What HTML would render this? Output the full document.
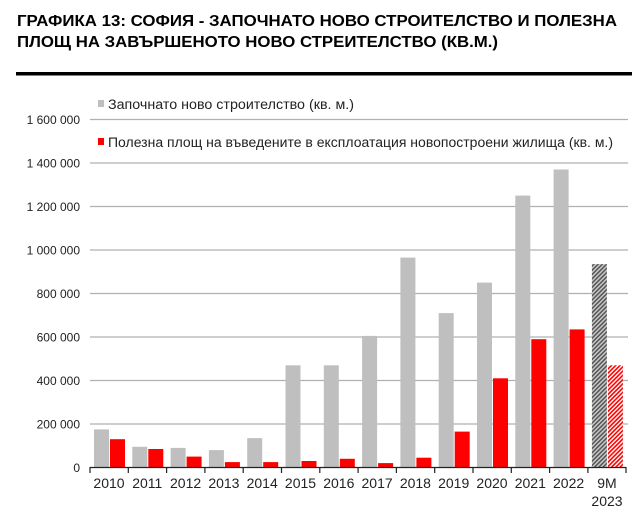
<!DOCTYPE html>
<html><head><meta charset="utf-8"><style>
body{margin:0;background:#fff;width:632px;height:513px;overflow:hidden;font-family:"Liberation Sans",Arial,sans-serif}
</style></head><body>
<svg width="632" height="513" xmlns="http://www.w3.org/2000/svg" font-family="Liberation Sans, Arial, sans-serif">
<defs>
<pattern id="hg" width="3" height="3" patternUnits="userSpaceOnUse" patternTransform="rotate(45)"><rect width="3" height="3" fill="#c8c8c8"/><rect width="1.5" height="3" fill="#555"/></pattern>
<pattern id="hr" width="3" height="3" patternUnits="userSpaceOnUse" patternTransform="rotate(45)"><rect width="3" height="3" fill="#fff"/><rect width="1.6" height="3" fill="#f00"/></pattern>
</defs>
<text x="17" y="26" font-size="16" font-weight="bold" textLength="600" lengthAdjust="spacingAndGlyphs">ГРАФИКА 13: СОФИЯ - ЗАПОЧНАТО НОВО СТРОИТЕЛСТВО И ПОЛЕЗНА</text>
<text x="17" y="47" font-size="16" font-weight="bold" textLength="481" lengthAdjust="spacingAndGlyphs">ПЛОЩ НА ЗАВЪРШЕНОТО НОВО СТРЕИТЕЛСТВО (КВ.М.)</text>
<rect x="16" y="72" width="616" height="3.5" fill="#000"/>
<g stroke="#b0b0b0" stroke-width="1.3">
<line x1="90" x2="628" y1="424" y2="424"/><line x1="90" x2="628" y1="380.5" y2="380.5"/><line x1="90" x2="628" y1="337" y2="337"/><line x1="90" x2="628" y1="293.5" y2="293.5"/><line x1="90" x2="628" y1="250" y2="250"/><line x1="90" x2="628" y1="206.5" y2="206.5"/><line x1="90" x2="628" y1="163" y2="163"/><line x1="90" x2="628" y1="119.5" y2="119.5"/>
</g>
<g font-size="12" text-anchor="end" fill="#222">
<text x="80" y="472">0</text><text x="80" y="428.5">200 000</text><text x="80" y="385">400 000</text><text x="80" y="341.5">600 000</text><text x="80" y="298">800 000</text><text x="80" y="254.5">1 000 000</text><text x="80" y="211">1 200 000</text><text x="80" y="167.5">1 400 000</text><text x="80" y="124">1 600 000</text>
</g>
<rect x="98" y="100" width="6" height="7" fill="#bfbfbf"/>
<text x="108" y="109" font-size="13.5" fill="#222" textLength="246" lengthAdjust="spacingAndGlyphs">Започнато ново строителство (кв. м.)</text>
<rect x="98" y="138" width="6" height="7" fill="#f00"/>
<text x="108" y="147" font-size="13.5" fill="#222" textLength="505" lengthAdjust="spacingAndGlyphs">Полезна площ на въведените в експлоатация новопостроени жилища (кв. м.)</text>
<g fill="#bfbfbf">
<rect x="94" y="429.4" width="15" height="38.1"/><rect x="132.3" y="446.8" width="15" height="20.7"/><rect x="170.6" y="447.9" width="15" height="19.6"/><rect x="208.9" y="450.1" width="15" height="17.4"/><rect x="247.2" y="438.1" width="15" height="29.4"/><rect x="285.5" y="365.3" width="15" height="102.2"/><rect x="323.8" y="365.3" width="15" height="102.2"/><rect x="362.1" y="335.9" width="15" height="131.6"/><rect x="400.4" y="257.6" width="15" height="209.9"/><rect x="438.7" y="313.1" width="15" height="154.4"/><rect x="477" y="282.6" width="15" height="184.9"/><rect x="515.3" y="195.6" width="15" height="271.9"/><rect x="553.6" y="169.5" width="15" height="298"/>
</g>
<rect x="591.9" y="264.1" width="15" height="203.4" fill="url(#hg)"/>
<g fill="#f00">
<rect x="110" y="439.2" width="15" height="28.3"/><rect x="148.3" y="449" width="15" height="18.5"/><rect x="186.6" y="456.6" width="15" height="10.9"/><rect x="224.9" y="462.1" width="15" height="5.4"/><rect x="263.2" y="462.1" width="15" height="5.4"/><rect x="301.5" y="461" width="15" height="6.5"/><rect x="339.8" y="458.8" width="15" height="8.7"/><rect x="378.1" y="463.1" width="15" height="4.4"/><rect x="416.4" y="457.7" width="15" height="9.8"/><rect x="454.7" y="431.6" width="15" height="35.9"/><rect x="493" y="378.3" width="15" height="89.2"/><rect x="531.3" y="339.2" width="15" height="128.3"/><rect x="569.6" y="329.4" width="15" height="138.1"/>
</g>
<rect x="607.9" y="365.3" width="15" height="102.2" fill="url(#hr)"/>
<line x1="90" x2="626" y1="467.5" y2="467.5" stroke="#222" stroke-width="1.3"/>
<g stroke="#222" stroke-width="1.2">
<line x1="90" x2="90" y1="467" y2="473"/><line x1="128.3" x2="128.3" y1="467" y2="473"/><line x1="166.6" x2="166.6" y1="467" y2="473"/><line x1="204.9" x2="204.9" y1="467" y2="473"/><line x1="243.2" x2="243.2" y1="467" y2="473"/><line x1="281.5" x2="281.5" y1="467" y2="473"/><line x1="319.8" x2="319.8" y1="467" y2="473"/><line x1="358.1" x2="358.1" y1="467" y2="473"/><line x1="396.4" x2="396.4" y1="467" y2="473"/><line x1="434.7" x2="434.7" y1="467" y2="473"/><line x1="473" x2="473" y1="467" y2="473"/><line x1="511.3" x2="511.3" y1="467" y2="473"/><line x1="549.6" x2="549.6" y1="467" y2="473"/><line x1="587.9" x2="587.9" y1="467" y2="473"/><line x1="626" x2="626" y1="467" y2="473"/>
</g>
<g font-size="14" text-anchor="middle" fill="#222">
<text x="109" y="488">2010</text><text x="147.3" y="488">2011</text><text x="185.6" y="488">2012</text><text x="223.9" y="488">2013</text><text x="262.2" y="488">2014</text><text x="300.5" y="488">2015</text><text x="338.8" y="488">2016</text><text x="377.1" y="488">2017</text><text x="415.4" y="488">2018</text><text x="453.7" y="488">2019</text><text x="492" y="488">2020</text><text x="530.3" y="488">2021</text><text x="568.6" y="488">2022</text><text x="607" y="488">9M</text><text x="607" y="506">2023</text>
</g>
</svg>
</body></html>
